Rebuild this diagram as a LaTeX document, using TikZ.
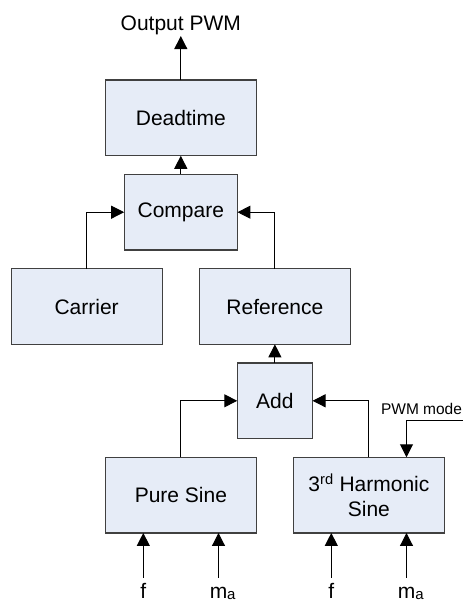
\documentclass[tikz,border=0pt]{standalone}
\usepackage{fontspec}
\setmainfont{Liberation Sans}
\usetikzlibrary{arrows.meta,positioning}

\definecolor{blockfill}{RGB}{230,236,247}
\definecolor{blockline}{RGB}{64,64,64}
\newcommand{\subA}{\rlap{\raisebox{-1pt}{\fontsize{15}{15}\selectfont a}}}

\begin{document}
\begin{tikzpicture}[->,>={Triangle[length=13pt,width=13pt]},line width=1pt,
        x=1pt,y=1pt,node distance=18.6pt,
        every node/.style={font=\fontsize{21}{25}\selectfont},
        block/.style={draw=blockline,fill=blockfill,line width=1.2pt,
          minimum width=151pt,minimum height=75.7pt,inner sep=0pt,outer sep=0pt,
          align=center},
        lbl/.style={anchor=north,inner sep=0pt,text height=14.5pt,text depth=1pt}]
  \useasboundingbox (0,0) rectangle (464,-603);

  \node[block] (dt) at (180.8,-117.9) {Deadtime};
  \node[block,minimum width=113.3pt] (cmp) [below=of dt] {Compare};
  \node[block] (car) [below=of cmp,xshift=-94.2pt] {Carrier};
  \node[block] (ref) [below=of cmp,xshift=94.1pt] {Reference};
  \node[block,minimum width=75.3pt] (add) [below=of ref] {Add};
  \node[block] (ps) [below=of add,xshift=-94pt] {Pure Sine};
  \node[block] (hs) [below=of add,xshift=94pt] {3\textsuperscript{rd} Harmonic\\Sine};
  \node[inner sep=1pt] (out) [above=44pt of dt] {Output PWM};
  \node[anchor=base east,inner sep=0pt,font=\fontsize{15.5}{18}\selectfont]
    (pwm) at (462.5,-414.3) {PWM mode};
  \coordinate (pwmend) at ([yshift=-5.7pt]pwm.base east);

  % inputs
  \node[lbl] (f1) at ([xshift=-37.6pt,yshift=-51pt]ps.south) {f};
  \node[lbl] (m1) at ([xshift=37.6pt,yshift=-51pt]ps.south) {m\subA};
  \node[lbl] (f2) at ([xshift=-37.6pt,yshift=-51pt]hs.south) {f};
  \node[lbl] (m2) at ([xshift=37.6pt,yshift=-51pt]hs.south) {m\subA};

  \draw (dt) -- (out);
  \draw (cmp) -- (dt);
  \draw (car) |- (cmp);
  \draw (ref) |- (cmp);
  \draw (add) -- (ref);
  \draw (ps) |- (add);
  \draw (hs) |- (add);
  \draw (pwmend) -| ([xshift=37.6pt]hs.north);
  \foreach \i/\b in {f1/ps,m1/ps,f2/hs,m2/hs}
    \draw ([yshift=6pt]\i.north) -- (\i |- \b.south);
\end{tikzpicture}
\end{document}
